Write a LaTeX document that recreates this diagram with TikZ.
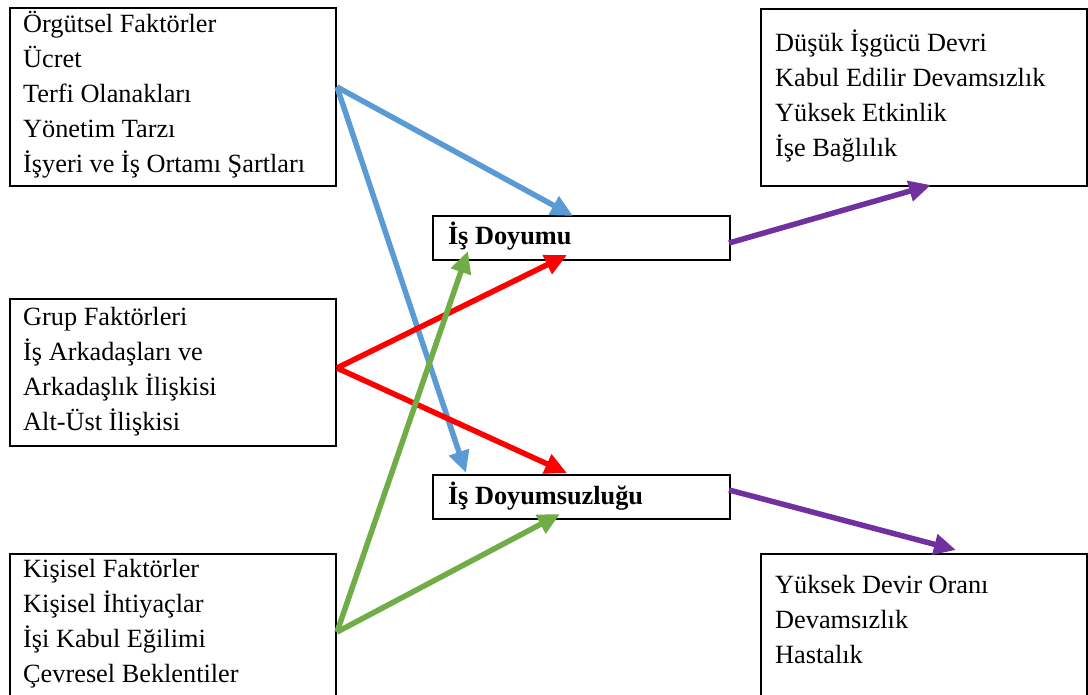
\documentclass[tikz,border=0pt]{standalone}
\usepackage{fontspec}
\setmainfont{Liberation Serif}
\usetikzlibrary{arrows.meta}
\definecolor{cblue}{RGB}{91,155,213}
\definecolor{cred}{RGB}{255,0,0}
\definecolor{cgreen}{RGB}{112,173,71}
\definecolor{cpurple}{RGB}{112,48,160}
\begin{document}
\begin{tikzpicture}[x=1pt,y=-1pt,
  natural spaces/.style={execute at begin node={\spaceskip=0.25em plus 0.1em minus 0.05em\relax}},
  frame/.style={draw=black,line width=2pt,rectangle,inner sep=0pt,anchor=north west},
  lines/.style={anchor=base west,inner sep=0pt,text width=320pt,align=left,natural spaces,
    font=\fontsize{26.3}{35}\selectfont},
  centerbox/.style={draw=black,line width=2pt,rectangle,anchor=north west,
    minimum width=297pt,minimum height=44pt,inner xsep=15pt,inner ysep=0pt,
    text width=267pt,align=left,text height=20pt,text depth=6pt,natural spaces,
    font=\fontsize{26.3}{35}\selectfont\bfseries},
  link/.style={line width=5.5pt,-{Triangle[length=22pt,width=20pt]}}]
\useasboundingbox[fill=white] (0,0) rectangle (1088,695);

% left-hand factor boxes
\node[frame,minimum width=326pt,minimum height=178pt] (org) at (9,7) {};
\node[lines] (orgtxt) at (23,33) {Örgütsel Faktörler\\Ücret\\Terfi Olanakları\\Yönetim Tarzı\\İşyeri ve İş Ortamı Şartları};

\node[frame,minimum width=326pt,minimum height=147pt] (grp) at (9,298) {};
\node[lines] (grptxt) at (23,326) {Grup Faktörleri\\İş Arkadaşları ve\\Arkadaşlık İlişkisi\\Alt-Üst İlişkisi};

\node[frame,minimum width=326pt,minimum height=150pt] (per) at (9,553) {};
\node[lines] (pertxt) at (23,577) {Kişisel Faktörler\\Kişisel İhtiyaçlar\\İşi Kabul Eğilimi\\Çevresel Beklentiler};

% central outcome boxes
\node[centerbox] (sat) at (432,215) {İş Doyumu};
\node[centerbox] (dis) at (432,474) {İş Doyumsuzluğu};

% right-hand consequence boxes
\node[frame,minimum width=326pt,minimum height=177pt] (good) at (760,8) {};
\node[lines] (goodtxt) at (775,52) {Düşük İşgücü Devri\\Kabul Edilir Devamsızlık\\Yüksek Etkinlik\\İşe Bağlılık};

\node[frame,minimum width=326pt,minimum height=150pt] (bad) at (760,553) {};
\node[lines] (badtxt) at (775,593) {Yüksek Devir Oranı\\Devamsızlık\\Hastalık};

% connector end points
\coordinate (orgout) at (337,87);
\coordinate (grpout) at (337,368);
\coordinate (perout) at (337,632);
\coordinate (satinB) at (573,216);
\coordinate (satinR) at (567,255);
\coordinate (satinG) at (468,251);
\coordinate (disinB) at (466,473);
\coordinate (disinR) at (567,473);
\coordinate (disinG) at (560,514);
\coordinate (satout) at (729,243);
\coordinate (disout) at (729,490);
\coordinate (goodin) at (931,185);
\coordinate (badin) at (956,550);

% connectors
\draw[link,cblue] (orgout) -- (satinB);
\draw[link,cblue] (orgout) -- (disinB);
\draw[link,cred] (grpout) -- (satinR);
\draw[link,cred] (grpout) -- (disinR);
\draw[link,cgreen] (perout) -- (satinG);
\draw[link,cgreen] (perout) -- (disinG);
\draw[link,cpurple] (satout) -- (goodin);
\draw[link,cpurple] (disout) -- (badin);
\end{tikzpicture}
\end{document}
